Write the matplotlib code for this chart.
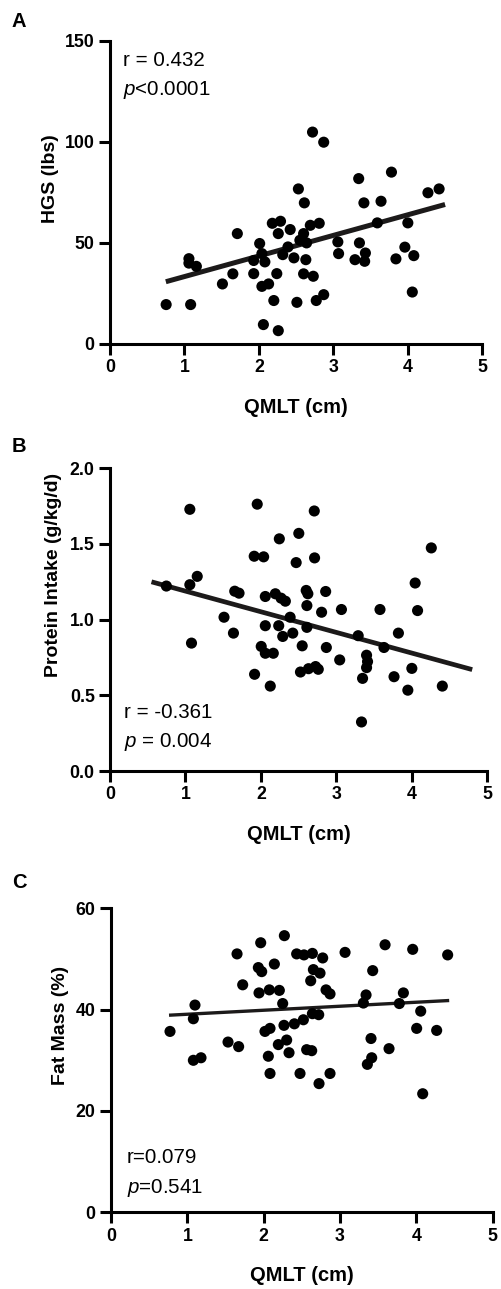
import matplotlib
matplotlib.use("Agg")
import matplotlib.pyplot as plt

plt.rcParams['font.family'] = ['Liberation Sans', 'DejaVu Sans']
plt.rcParams['mathtext.fontset'] = 'custom'
plt.rcParams['mathtext.rm'] = 'Liberation Sans'
plt.rcParams['mathtext.it'] = 'Liberation Sans:italic'

# ---------------- Data ----------------
# Panel A: HGS vs QMLT
a_x = [0.754, 1.083, 1.06, 1.06, 1.16, 1.51, 1.65, 1.71, 1.93, 1.93, 2.01, 2.04, 2.08,
       2.04, 2.13, 2.06, 2.26, 2.20, 2.24, 2.18, 2.29, 2.26, 2.32, 2.39, 2.42, 2.47,
       2.51, 2.53, 2.61, 2.55, 2.60, 2.64, 2.63, 2.60, 2.73, 2.69, 2.81, 2.77, 2.87,
       2.72, 2.87, 3.06, 3.07, 3.34, 3.41, 3.35, 3.29, 3.43, 3.42, 3.59, 3.64, 3.78,
       3.84, 3.96, 4.00, 4.08, 4.06, 4.27, 4.42]
a_y = [19.5, 19.5, 42.2, 40.0, 38.4, 29.7, 34.7, 54.6, 34.8, 41.3, 49.7, 44.7, 40.6,
       28.5, 29.7, 9.6, 6.6, 21.5, 34.8, 59.7, 60.7, 54.6, 44.2, 48.0, 56.6, 42.6,
       20.6, 76.7, 69.8, 51.3, 54.6, 50.0, 41.7, 34.7, 33.5, 58.7, 59.7, 21.5, 24.4,
       104.8, 99.8, 50.5, 44.7, 81.8, 69.8, 50.0, 41.7, 45.0, 40.9, 59.9, 70.6, 85.0,
       42.1, 47.9, 59.9, 43.7, 25.7, 74.8, 76.7]
a_fit_x = [0.75, 4.5]
a_fit_y = [30.8, 69.0]

# Panel B: Protein intake vs QMLT
b_x = [0.747, 1.058, 1.058, 1.156, 1.08, 1.511, 1.636, 1.653, 1.71, 1.951, 1.911, 2.036,
       2.058, 2.058, 1.916, 2.004, 2.058, 2.164, 2.124, 2.244, 2.191, 2.267, 2.324,
       2.236, 2.289, 2.387, 2.422, 2.502, 2.467, 2.6, 2.622, 2.609, 2.609, 2.547,
       2.524, 2.631, 2.724, 2.76, 2.707, 2.711, 2.804, 2.858, 2.867, 3.044, 3.067,
       3.289, 3.333, 3.347, 3.4, 3.413, 3.4, 3.578, 3.631, 3.764, 3.822, 3.947, 4.0,
       4.044, 4.076, 4.258, 4.404]
b_y = [1.222, 1.729, 1.231, 1.286, 0.845, 1.016, 0.911, 1.188, 1.175, 1.763, 1.419, 1.415,
       1.153, 0.960, 0.639, 0.823, 0.778, 0.778, 0.561, 1.534, 1.171, 1.142, 1.122,
       0.960, 0.889, 1.016, 0.911, 1.570, 1.377, 1.193, 1.171, 1.093, 0.949, 0.827,
       0.654, 0.676, 0.690, 0.672, 1.718, 1.408, 1.049, 1.186, 0.816, 0.734, 1.067,
       0.894, 0.324, 0.612, 0.765, 0.723, 0.683, 1.067, 0.816, 0.623, 0.911, 0.534,
       0.678, 1.242, 1.060, 1.474, 0.561]
b_fit_x = [0.55, 4.8]
b_fit_y = [1.25, 0.67]

# Panel C: Fat mass vs QMLT
c_x = [0.773, 1.100, 1.079, 1.079, 1.179, 1.533, 1.672, 1.651, 1.725, 1.961, 1.930, 1.974,
       1.939, 2.074, 2.140, 2.205, 2.249, 2.017, 2.083, 2.061, 2.083, 2.192, 2.301,
       2.332, 2.266, 2.271, 2.402, 2.476, 2.432, 2.528, 2.638, 2.520, 2.563, 2.629,
       2.616, 2.651, 2.738, 2.773, 2.638, 2.721, 2.725, 2.817, 2.869, 2.869, 3.066,
       3.306, 3.341, 3.428, 3.406, 3.415, 3.358, 3.590, 3.642, 3.777, 3.830, 3.952,
       4.004, 4.057, 4.083, 4.266, 4.410]
c_y = [35.7, 40.9, 38.2, 30.0, 30.5, 33.6, 32.7, 51.0, 44.9, 53.2, 48.3, 47.5, 43.3,
       43.9, 49.0, 43.8, 41.2, 35.7, 36.3, 30.8, 27.4, 33.1, 34.0, 31.5, 36.9, 54.6,
       37.2, 27.4, 51.0, 50.8, 51.1, 38.0, 32.1, 31.9, 45.7, 47.9, 47.2, 50.2, 39.2,
       39.0, 25.4, 43.9, 43.1, 27.4, 51.3, 41.3, 42.9, 47.7, 34.3, 30.5, 29.2, 52.8,
       32.3, 41.2, 43.3, 51.9, 36.3, 39.7, 23.4, 35.9, 50.8]
c_fit_x = [0.76, 4.43]
c_fit_y = [38.9, 41.8]

x_ticks = [0, 1, 2, 3, 4, 5]
a_yticks = [0, 50, 100, 150]
b_yticks = [0.0, 0.5, 1.0, 1.5, 2.0]
b_yticklabels = ['0.0', '0.5', '1.0', '1.5', '2.0']
c_yticks = [0, 20, 40, 60]

W, H = 501, 1289
fig = plt.figure(figsize=(W / 100, H / 100), dpi=100)


def px_axes(left, right, top, bottom):
    return fig.add_axes([left / W, (H - bottom) / H, (right - left) / W, (bottom - top) / H])


def style(ax, xlim, ylim, yticks, ylabels=None):
    ax.set_xlim(*xlim)
    ax.set_ylim(*ylim)
    for s in ['top', 'right']:
        ax.spines[s].set_visible(False)
    for s in ['left', 'bottom']:
        ax.spines[s].set_linewidth(2.2)
        ax.spines[s].set_capstyle('projecting')
    ax.set_xticks(x_ticks)
    ax.set_yticks(yticks)
    if ylabels is not None:
        ax.set_yticklabels(ylabels)
    ax.tick_params(axis='both', length=8, width=2.2, pad=3, labelsize=12.8)
    for lab in ax.get_xticklabels() + ax.get_yticklabels():
        lab.set_fontweight('bold')
    ax.set_xlabel('QMLT (cm)', fontsize=14.5, fontweight='bold', va='baseline')
    ax.xaxis.set_label_coords(0.5, -69 / 304)


dot_kw = dict(s=64, color='black', edgecolors='none', zorder=3, clip_on=False)
line_col = '#1c1a1a'
ann_size = 14.8
ylab_size = 14

# Panel A
axA = px_axes(110, 482.3, 40.7, 344)
axA.scatter(a_x, a_y, **dot_kw)
axA.plot(a_fit_x, a_fit_y, color=line_col, lw=3.6, solid_capstyle='butt', zorder=2)
style(axA, (0, 5), (0, 150), a_yticks)
axA.set_ylabel('HGS (lbs)', fontsize=ylab_size, fontweight='bold', va='center', ha='center')
axA.yaxis.set_label_coords(-0.16, 0.545)
axA.text(0.035, 0.918, 'r = 0.432', transform=axA.transAxes, fontsize=ann_size, va='baseline')
axA.text(0.035, 0.820, '$p$<0.0001', transform=axA.transAxes, fontsize=ann_size, va='baseline')

# Panel B
axB = px_axes(110, 487.3, 468.3, 771)
axB.scatter(b_x, b_y, **dot_kw)
axB.plot(b_fit_x, b_fit_y, color=line_col, lw=3.4, solid_capstyle='butt', zorder=2)
style(axB, (0, 5), (0, 2.0), b_yticks, b_yticklabels)
axB.set_ylabel('Protein Intake (g/kg/d)', fontsize=ylab_size, fontweight='bold', va='center', ha='center')
axB.yaxis.set_label_coords(-0.149, 0.647)
axB.text(0.038, 0.175, 'r = -0.361', transform=axB.transAxes, fontsize=ann_size, va='baseline')
axB.text(0.038, 0.080, '$p$ = 0.004', transform=axB.transAxes, fontsize=ann_size, va='baseline')

# Panel C
axC = px_axes(111, 492.7, 908.3, 1212.3)
axC.scatter(c_x, c_y, **dot_kw)
axC.plot(c_fit_x, c_fit_y, color=line_col, lw=2.4, solid_capstyle='butt', zorder=2)
style(axC, (0, 5), (0, 60), c_yticks)
axC.set_ylabel('Fat Mass (%)', fontsize=ylab_size, fontweight='bold', va='center', ha='center')
axC.yaxis.set_label_coords(-0.131, 0.615)
axC.text(0.042, 0.161, 'r=0.079', transform=axC.transAxes, fontsize=ann_size, va='baseline')
axC.text(0.042, 0.064, '$p$=0.541', transform=axC.transAxes, fontsize=ann_size, va='baseline')

# Panel letters
for letter, base in [('A', 27), ('B', 452), ('C', 888)]:
    fig.text(12 / W, (H - base) / H, letter, fontsize=14.5, fontweight='bold', va='baseline', ha='left')

fig.savefig('out.png', dpi=100)
